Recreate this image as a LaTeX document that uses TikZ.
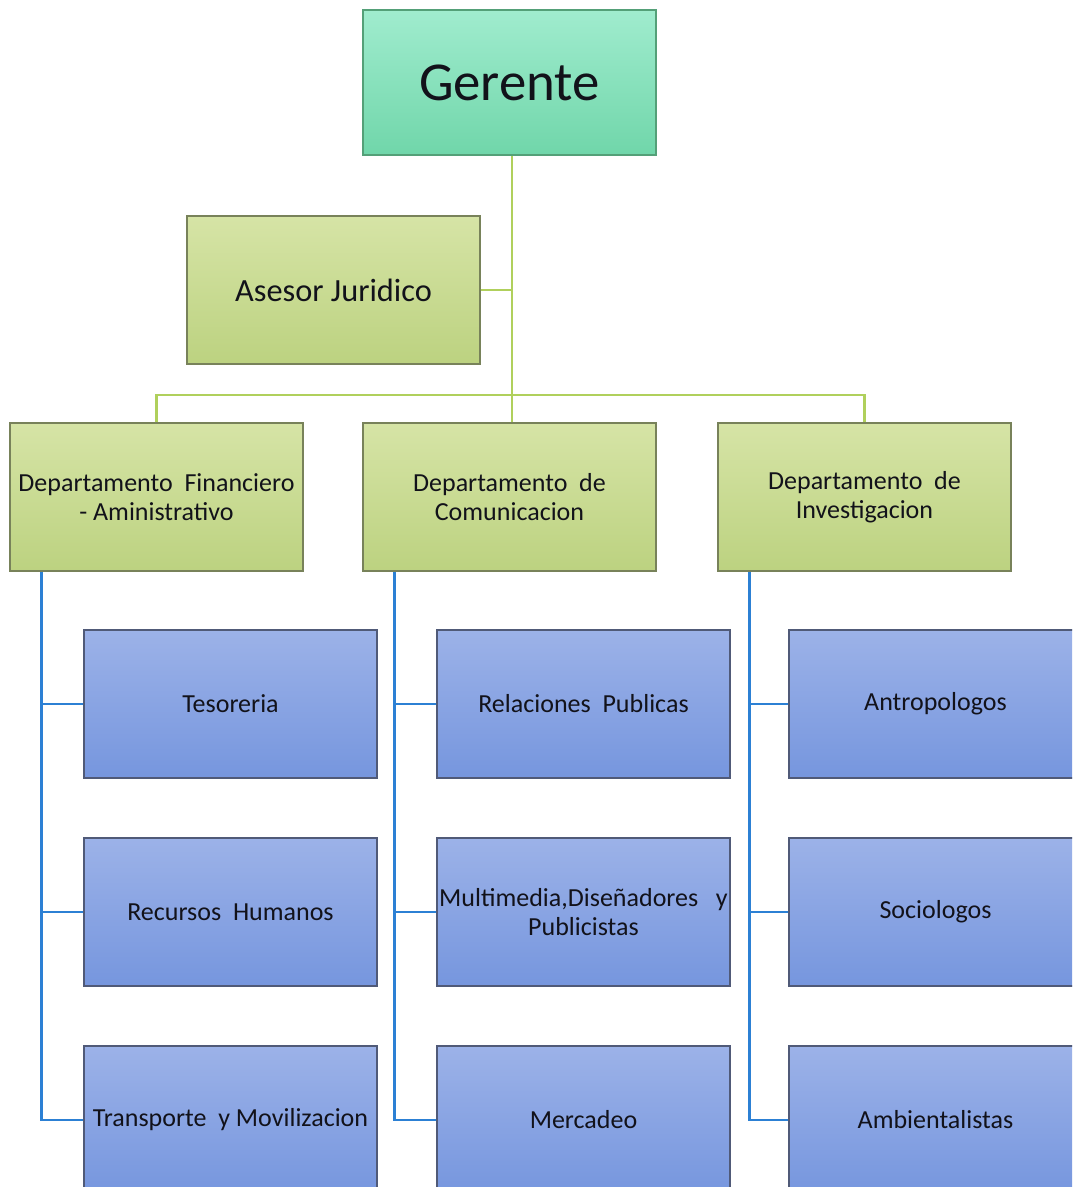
\documentclass[tikz,border=0pt]{standalone}
\usepackage{fontspec}
\setmainfont{Carlito}
\definecolor{mintTop}{RGB}{160,236,206}
\definecolor{mintBot}{RGB}{112,214,170}
\definecolor{mintLine}{RGB}{84,160,120}
\definecolor{oliveTop}{RGB}{214,228,166}
\definecolor{oliveBot}{RGB}{188,210,128}
\definecolor{oliveLine}{RGB}{120,130,90}
\definecolor{blueTop}{RGB}{156,178,232}
\definecolor{blueBot}{RGB}{118,150,222}
\definecolor{blueLine}{RGB}{80,90,120}
\definecolor{greenWire}{RGB}{176,208,92}
\definecolor{blueWire}{RGB}{44,128,212}
\definecolor{ink}{RGB}{18,18,26}
\tikzset{
  boss/.style={draw=mintLine,line width=1pt,top color=mintTop,bottom color=mintBot,
    minimum width=7.325cm,minimum height=3.625cm,text=ink,font=\fontsize{39}{44}\selectfont},
  dept/.style={draw=oliveLine,line width=0.8pt,top color=oliveTop,bottom color=oliveBot,
    minimum width=7.325cm,minimum height=3.7cm,text=ink,align=center,
    font=\fontsize{18.5}{20.5}\selectfont},
  unit/.style={draw=blueLine,line width=0.8pt,top color=blueTop,bottom color=blueBot,
    minimum width=7.325cm,minimum height=3.7cm,text=ink,align=center,
    font=\fontsize{18.5}{20.5}\selectfont},
  greenwire/.style={draw=greenWire,line width=2pt},
  bluewire/.style={draw=blueWire,line width=1.6pt}
}
\begin{document}
\begin{tikzpicture}[x=0.025cm,y=-0.025cm]
	\useasboundingbox (0,0) rectangle (1072,1187);
	\clip (0,0) rectangle (1072,1187);
	% jefe y asesor
	\node[boss] (gerente) at (509.5,82.5) {Gerente};
	\node[dept,font=\fontsize{23}{26}\selectfont] (asesor) at (333.5,290) {Asesor Juridico};
	% departamentos
	\node[dept] (finan) at (156.5,497) {Departamento\ \ Financiero\\- Aministrativo};
	\node[dept] (comun) at (509.5,497) {Departamento\ \ de\\Comunicacion};
	\node[dept] (inves) at (864.5,497) {Departamento\ \ de\\Investigacion};
	% unidades
	\node[unit] (tesor) at (230.5,704) {Tesoreria};
	\node[unit] (rrhh) at (230.5,912) {Recursos\ \ Humanos};
	\node[unit] (trans) at (230.5,1120) {Transporte\ \ y Movilizacion};
	\node[unit] (relac) at (583.5,704) {Relaciones\ \ Publicas};
	\node[unit,inner xsep=0pt] (multi) at (583.5,912) {Multimedia,Diseñadores\ \ \ y\\Publicistas};
	\node[unit] (merca) at (583.5,1120) {Mercadeo};
	\node[unit] (antro) at (935.5,704) {Antropologos};
	\node[unit] (socio) at (935.5,912) {Sociologos};
	\node[unit] (ambie) at (935.5,1120) {Ambientalistas};
	% lineas verdes
	\coordinate (bus) at (512,395);
	\draw[greenwire] (gerente.south -| bus) -- (bus);
	\draw[greenwire] (asesor.east) -- (asesor.east -| bus);
	\draw[greenwire] (finan.north) |- (bus) -| (inves.north);
	\draw[greenwire] (comun.north -| bus) -- (bus);
	% lineas azules
	\foreach \d/\a/\b/\c in {finan/tesor/rrhh/trans,comun/relac/multi/merca,inves/antro/socio/ambie}{
		\coordinate (\d-r) at ([xshift=0.8cm]\d.south west);
		\draw[bluewire] (\d-r) |- (\c.west);
		\draw[bluewire] (\a.west) -- (\a.west -| \d-r);
		\draw[bluewire] (\b.west) -- (\b.west -| \d-r);
	}
\end{tikzpicture}
\end{document}
